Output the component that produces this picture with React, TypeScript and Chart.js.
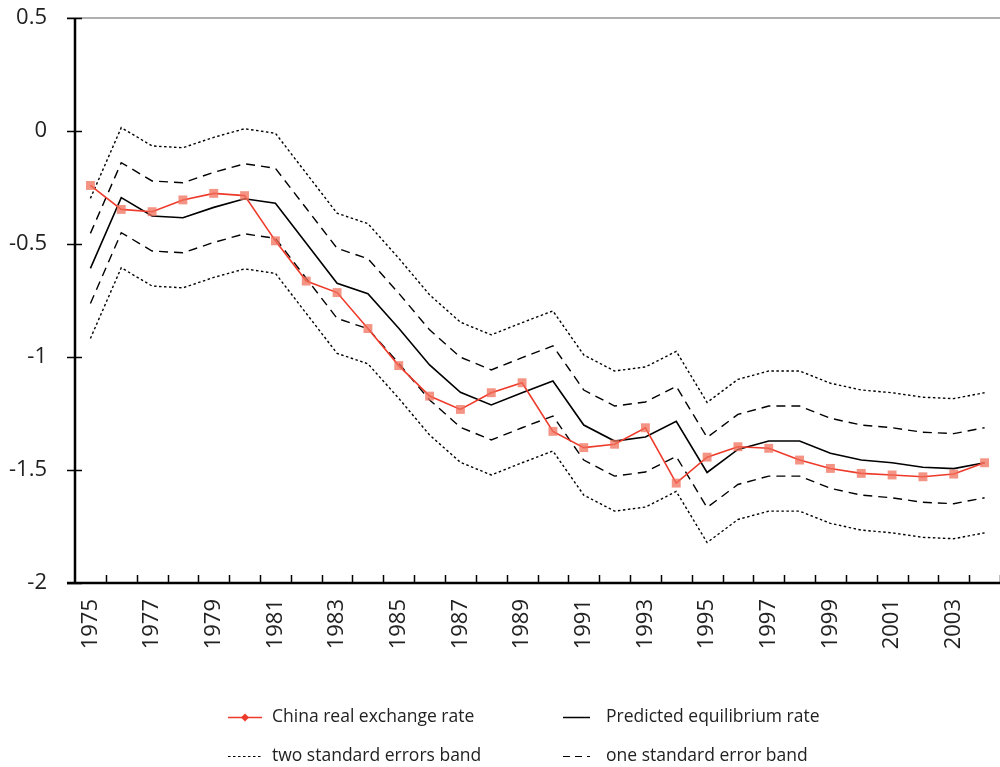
import React, { useEffect, useRef } from "react";
import { Chart, registerables } from "chart.js";

Chart.register(...registerables);

const years: string[] = [
  "1975", "1976", "1977", "1978", "1979", "1980", "1981", "1982", "1983", "1984",
  "1985", "1986", "1987", "1988", "1989", "1990", "1991", "1992", "1993", "1994",
  "1995", "1996", "1997", "1998", "1999", "2000", "2001", "2002", "2003", "2004",
];

const chinaRate: number[] = [
  -0.241, -0.347, -0.357, -0.305, -0.276, -0.286, -0.486, -0.664, -0.715, -0.874,
  -1.038, -1.173, -1.232, -1.158, -1.114, -1.329, -1.401, -1.386, -1.313, -1.558,
  -1.443, -1.397, -1.404, -1.456, -1.493, -1.515, -1.522, -1.530, -1.518, -1.468,
];

const predicted: number[] = [
  -0.608, -0.295, -0.376, -0.384, -0.338, -0.300, -0.320, -0.497, -0.674, -0.720,
  -0.873, -1.035, -1.156, -1.212, -1.158, -1.106, -1.301, -1.372, -1.354, -1.285,
  -1.511, -1.409, -1.372, -1.372, -1.426, -1.456, -1.468, -1.488, -1.494, -1.468,
];

const oneSeUpper: number[] = [
  -0.453, -0.140, -0.221, -0.229, -0.183, -0.145, -0.165, -0.342, -0.519, -0.565,
  -0.718, -0.880, -1.001, -1.057, -1.003, -0.951, -1.146, -1.217, -1.199, -1.130,
  -1.356, -1.254, -1.217, -1.217, -1.271, -1.301, -1.313, -1.333, -1.339, -1.313,
];

const oneSeLower: number[] = [
  -0.763, -0.450, -0.531, -0.539, -0.493, -0.455, -0.475, -0.652, -0.829, -0.875,
  -1.028, -1.190, -1.311, -1.367, -1.313, -1.261, -1.456, -1.527, -1.509, -1.440,
  -1.666, -1.564, -1.527, -1.527, -1.581, -1.611, -1.623, -1.643, -1.649, -1.623,
];

const twoSeUpper: number[] = [
  -0.298, 0.015, -0.066, -0.074, -0.028, 0.010, -0.010, -0.187, -0.364, -0.410,
  -0.563, -0.725, -0.846, -0.902, -0.848, -0.796, -0.991, -1.062, -1.044, -0.975,
  -1.201, -1.099, -1.062, -1.062, -1.116, -1.146, -1.158, -1.178, -1.184, -1.158,
];

const twoSeLower: number[] = [
  -0.918, -0.605, -0.686, -0.694, -0.648, -0.610, -0.630, -0.807, -0.984, -1.030,
  -1.183, -1.345, -1.466, -1.522, -1.468, -1.416, -1.611, -1.682, -1.664, -1.595,
  -1.821, -1.719, -1.682, -1.682, -1.736, -1.766, -1.778, -1.798, -1.804, -1.778,
];

const yTicks: number[] = [0.5, 0, -0.5, -1, -1.5, -2];

const legendLabels: string[] = [
  "China real exchange rate",
  "Predicted equilibrium rate",
  "two standard errors band",
  "one standard error band",
];

const FONT = "'Open Sans', 'DejaVu Sans', sans-serif";
const RED = "#ee3a2a";
const DOTS = [2.5, 2.5];
const DASHES = [9, 6];

const zeroPad = (s: any) => {
  s.paddingLeft = 0;
  s.paddingRight = 0;
  s.paddingTop = 0;
  s.paddingBottom = 0;
};

const axesAndLegend = {
  id: "axesAndLegend",
  afterDraw(chart: any) {
    const ctx = chart.ctx as CanvasRenderingContext2D;
    const x = chart.scales.x;
    const y = chart.scales.y;
    const area = chart.chartArea;
    ctx.save();
    // top border
    ctx.strokeStyle = "#b0b0b0";
    ctx.lineWidth = 2;
    ctx.beginPath();
    ctx.moveTo(area.left - 8, area.top);
    ctx.lineTo(area.right, area.top);
    ctx.stroke();
    // y axis
    ctx.strokeStyle = "#000";
    ctx.lineWidth = 2.5;
    ctx.beginPath();
    ctx.moveTo(area.left, area.top);
    ctx.lineTo(area.left, area.bottom);
    ctx.stroke();
    // x axis
    ctx.lineWidth = 2.5;
    ctx.beginPath();
    ctx.moveTo(area.left - 8, area.bottom);
    ctx.lineTo(area.right, area.bottom);
    ctx.stroke();
    // y ticks
    ctx.lineWidth = 1.5;
    for (const v of yTicks) {
      const py = Math.round(y.getPixelForValue(v)) + 0.5;
      ctx.beginPath();
      ctx.moveTo(area.left - 8, py);
      ctx.lineTo(area.left + 7, py);
      ctx.stroke();
    }
    // x ticks between categories
    const step = x.getPixelForValue(1) - x.getPixelForValue(0);
    for (let i = 1; i <= years.length; i++) {
      const px = Math.round(x.getPixelForValue(i) - step / 2) + 0.5;
      ctx.beginPath();
      ctx.moveTo(px, area.bottom);
      ctx.lineTo(px, area.bottom - 8);
      ctx.stroke();
    }

    // legend
    const rows = [717, 756];
    const cols = [[228, 262, 272], [563, 590, 606]];
    ctx.font = `17.5px ${FONT}`;
    ctx.fillStyle = "#222";
    ctx.textBaseline = "middle";
    ctx.textAlign = "left";
    const items = [
      { r: 0, c: 0, color: RED, dash: [] as number[], marker: true, w: 1.5 },
      { r: 0, c: 1, color: "#000", dash: [] as number[], marker: false, w: 1.5 },
      { r: 1, c: 0, color: "#000", dash: DOTS, marker: false, w: 1.2 },
      { r: 1, c: 1, color: "#000", dash: [7, 5], marker: false, w: 1.2 },
    ];
    items.forEach((it, i) => {
      const [x0, x1, tx] = cols[it.c];
      const yy = rows[it.r] + 0.5;
      ctx.strokeStyle = it.color;
      ctx.lineWidth = it.w;
      ctx.setLineDash(it.dash);
      ctx.beginPath();
      ctx.moveTo(x0, yy);
      ctx.lineTo(x1, yy);
      ctx.stroke();
      ctx.setLineDash([]);
      if (it.marker) {
        const cx = (x0 + x1) / 2;
        ctx.fillStyle = RED;
        ctx.beginPath();
        ctx.moveTo(cx, yy - 4);
        ctx.lineTo(cx + 4, yy);
        ctx.lineTo(cx, yy + 4);
        ctx.lineTo(cx - 4, yy);
        ctx.closePath();
        ctx.fill();
      }
      ctx.fillStyle = "#222";
      ctx.fillText(legendLabels[i], tx, rows[it.r]);
    });
    ctx.restore();
  },
};

export default function App() {
  const ref = useRef<HTMLCanvasElement | null>(null);

  useEffect(() => {
    if (!ref.current) return;
    const lineBase = { pointRadius: 0, fill: false, tension: 0, borderColor: "#000" };
    const chart = new Chart(ref.current, {
      type: "line",
      data: {
        labels: years,
        datasets: [
          {
            label: legendLabels[0],
            data: chinaRate,
            borderColor: RED,
            borderWidth: 1.6,
            pointStyle: "rect",
            pointRadius: 6.3,
            pointBackgroundColor: "rgba(240,112,92,0.75)",
            pointBorderWidth: 0,
            fill: false,
            tension: 0,
            clip: false,
          },
          { ...lineBase, label: legendLabels[1], data: predicted, borderWidth: 1.6 },
          { ...lineBase, label: "two SE upper", data: twoSeUpper, borderWidth: 1.4, borderDash: DOTS },
          { ...lineBase, label: "two SE lower", data: twoSeLower, borderWidth: 1.4, borderDash: DOTS },
          { ...lineBase, label: "one SE upper", data: oneSeUpper, borderWidth: 1.4, borderDash: DASHES },
          { ...lineBase, label: "one SE lower", data: oneSeLower, borderWidth: 1.4, borderDash: DASHES },
        ],
      },
      options: {
        responsive: false,
        animation: false,
        events: [],
        layout: { autoPadding: false, padding: { top: 18, left: 0, right: 0, bottom: 0 } },
        plugins: { legend: { display: false }, tooltip: { enabled: false } },
        scales: {
          x: {
            type: "category",
            offset: true,
            grid: { display: false, drawTicks: false },
            border: { display: false },
            ticks: {
              autoSkip: false,
              minRotation: 90,
              maxRotation: 90,
              padding: 16,
              color: "#222",
              font: { family: FONT, size: 22 },
              callback: (_v: any, i: number) => (i % 2 === 0 ? years[i] : ""),
            },
            afterFit: (s: any) => {
              s.height = 184;
              zeroPad(s);
            },
          },
          y: {
            min: -2,
            max: 0.5,
            grid: { display: false, drawTicks: false },
            border: { display: false },
            afterBuildTicks: (s: any) => {
              s.ticks = yTicks.map((v) => ({ value: v }));
            },
            ticks: {
              padding: 28,
              color: "#222",
              font: { family: FONT, size: 22 },
              callback: (v: any) => String(v),
            },
            afterFit: (s: any) => {
              s.width = 75;
              zeroPad(s);
            },
          },
        },
      },
      plugins: [axesAndLegend],
    });
    return () => chart.destroy();
  }, []);

  return (
    <div style={{ position: "absolute", left: 0, top: 0, width: 1000, height: 767, background: "#fff" }}>
      <canvas ref={ref} width={1000} height={767} />
    </div>
  );
}
